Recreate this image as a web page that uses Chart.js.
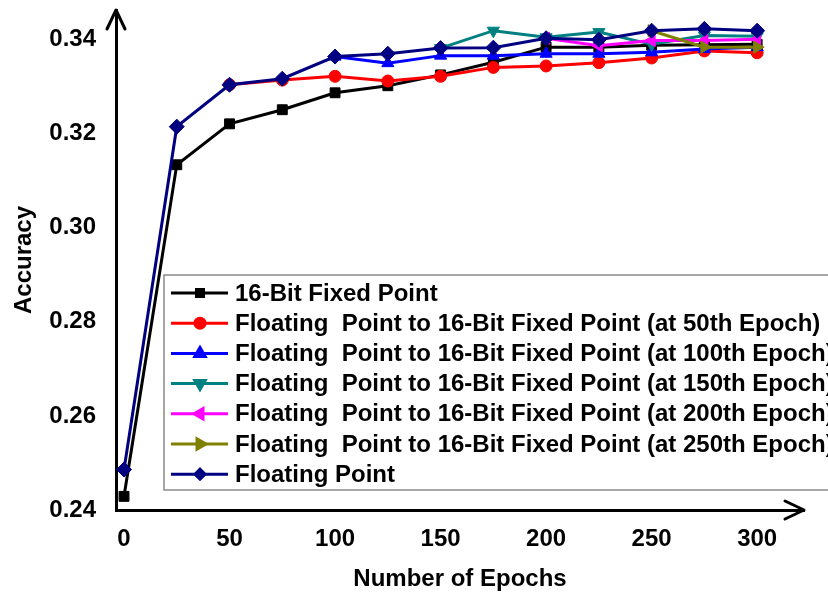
<!DOCTYPE html>
<html>
<head>
<meta charset="utf-8">
<title>Accuracy vs Epochs</title>
<script src="https://cdn.jsdelivr.net/npm/chart.js@4.4.1/dist/chart.umd.min.js"></script>
<style>
  body { margin: 0; background: #fff; }
  #wrap { width: 828px; height: 597px; }
</style>
</head>
<body>
<div id="wrap"><canvas id="accChart" width="828" height="597"></canvas></div>
<script>
// epochs sampled every 25
const epochs = [0, 25, 50, 75, 100, 125, 150, 175, 200, 225, 250, 275, 300];

// accuracy per run (null = still training in floating point)
const fixed16   = [0.2429, 0.3134, 0.3221, 0.3251, 0.3287, 0.3302, 0.3325, 0.3352, 0.3384, 0.3384, 0.3388, 0.3389, 0.3390];
const switch50  = [null, null, 0.3304, 0.3314, 0.3322, 0.3312, 0.3322, 0.3341, 0.3344, 0.3351, 0.3361, 0.3376, 0.3372];
const switch100 = [null, null, null, null, 0.3364, 0.3350, 0.3366, 0.3366, 0.3370, 0.3370, 0.3373, 0.3380, 0.3384];
const switch150 = [null, null, null, null, null, null, 0.3382, 0.3419, 0.3405, 0.3416, 0.3390, 0.3409, 0.3407];
const switch200 = [null, null, null, null, null, null, null, null, 0.3403, 0.3387, 0.3398, 0.3398, 0.3401];
const switch250 = [null, null, null, null, null, null, null, null, null, null, 0.3419, 0.3384, 0.3384];
const floating  = [0.2486, 0.3215, 0.3304, 0.3317, 0.3364, 0.3370, 0.3382, 0.3383, 0.3403, 0.3400, 0.3419, 0.3423, 0.3419];

const seriesNames = [
  '16-Bit Fixed Point',
  'Floating  Point to 16-Bit Fixed Point (at 50th Epoch)',
  'Floating  Point to 16-Bit Fixed Point (at 100th Epoch)',
  'Floating  Point to 16-Bit Fixed Point (at 150th Epoch)',
  'Floating  Point to 16-Bit Fixed Point (at 200th Epoch)',
  'Floating  Point to 16-Bit Fixed Point (at 250th Epoch)',
  'Floating Point'
];

const xTicks = [0, 50, 100, 150, 200, 250, 300];
const yTicks = [0.24, 0.26, 0.28, 0.30, 0.32, 0.34];

const FONT = "'Liberation Sans', Arial, sans-serif";

const styles = [
  { color: '#000000', pointStyle: 'rect',     rotation: 0,   radius: 7 },
  { color: '#ff0000', pointStyle: 'circle',   rotation: 0,   radius: 6 },
  { color: '#0000ff', pointStyle: 'triangle', rotation: 0,   radius: 7 },
  { color: '#008080', pointStyle: 'triangle', rotation: 180, radius: 7 },
  { color: '#ff00ff', pointStyle: 'triangle', rotation: -90, radius: 7 },
  { color: '#808000', pointStyle: 'triangle', rotation: 90,  radius: 7 },
  { color: '#000080', pointStyle: 'rectRot',  rotation: 0,   radius: 7.5 }
];

const allSeries = [fixed16, switch50, switch100, switch150, switch200, switch250, floating];

const datasets = allSeries.map((vals, i) => ({
  label: seriesNames[i],
  data: epochs.map((e, k) => ({ x: e, y: vals[k] })),
  borderColor: styles[i].color,
  backgroundColor: styles[i].color,
  borderWidth: 3,
  pointStyle: styles[i].pointStyle,
  rotation: styles[i].rotation,
  pointRadius: styles[i].radius,
  pointBorderWidth: 1,
  tension: 0,
  // floating point on top, fixed point at the bottom
  order: allSeries.length - 1 - i
}));

// no extra room for edge labels, the plot box is set by hand
function noEdgePadding(s) {
  s.paddingTop = 0;
  s.paddingBottom = 0;
  s.paddingLeft = 0;
  s.paddingRight = 0;
}

// arrow heads on the ends of both axes
const axisArrows = {
  id: 'axisArrows',
  afterDraw(chart) {
    const { ctx, chartArea: a } = chart;
    ctx.save();
    ctx.strokeStyle = '#000';
    ctx.lineWidth = 3;
    ctx.lineCap = 'round';
    ctx.lineJoin = 'round';
    ctx.beginPath();
    ctx.moveTo(a.left - 9, a.top + 19);
    ctx.lineTo(a.left, a.top);
    ctx.lineTo(a.left + 9, a.top + 19);
    ctx.moveTo(a.right - 19, a.bottom - 9);
    ctx.lineTo(a.right, a.bottom);
    ctx.lineTo(a.right - 19, a.bottom + 9);
    ctx.stroke();
    ctx.restore();
  }
};

// boxed legend inside the plot, each entry shows line + marker
const legendBox = {
  id: 'legendBox',
  afterDraw(chart) {
    const ctx = chart.ctx;
    const left = 164, top = 275, height = 215;
    ctx.save();
    ctx.fillStyle = '#fff';
    ctx.fillRect(left, top, 700, height);
    ctx.strokeStyle = '#8a8a8a';
    ctx.lineWidth = 1.5;
    ctx.strokeRect(left, top, 700, height);
    ctx.font = 'bold 24px ' + FONT;
    ctx.textBaseline = 'middle';
    chart.data.datasets.forEach((ds, i) => {
      const y = 293 + i * 30.2;
      const st = styles[i];
      ctx.strokeStyle = st.color;
      ctx.fillStyle = st.color;
      ctx.lineWidth = 3;
      ctx.beginPath();
      ctx.moveTo(171, y);
      ctx.lineTo(228, y);
      ctx.stroke();
      Chart.helpers.drawPoint(ctx, {
        pointStyle: st.pointStyle,
        rotation: st.rotation,
        radius: st.pointStyle === 'triangle' ? 6 : 5,
        borderWidth: 1
      }, 200, y);
      ctx.fillStyle = '#000';
      ctx.fillText(ds.label, 235, y + 1);
    });
    ctx.restore();
  }
};

new Chart(document.getElementById('accChart'), {
  type: 'line',
  data: { datasets },
  options: {
    responsive: false,
    devicePixelRatio: 1,
    animation: false,
    layout: { padding: { top: 10, right: 24, left: 0, bottom: 0 } },
    plugins: {
      legend: { display: false },
      tooltip: { enabled: false }
    },
    scales: {
      x: {
        type: 'linear',
        min: -3.8,
        max: 322.2,
        grid: { display: false, drawTicks: false },
        border: { display: true, color: '#000', width: 3 },
        afterBuildTicks: s => { s.ticks = xTicks.map(v => ({ value: v })); },
        afterFit: s => { s.height = 87; noEdgePadding(s); },
        ticks: {
          color: '#000',
          padding: 15,
          maxRotation: 0,
          font: { family: FONT, size: 24, weight: 'bold' }
        },
        title: {
          display: true,
          text: 'Number of Epochs',
          color: '#000',
          padding: { top: 0, bottom: 3 },
          font: { family: FONT, size: 24, weight: 'bold' }
        }
      },
      y: {
        type: 'linear',
        min: 0.24,
        max: 0.3463,
        grid: { display: false, drawTicks: false },
        border: { display: true, color: '#000', width: 3 },
        afterBuildTicks: s => { s.ticks = yTicks.map(v => ({ value: v })); },
        afterFit: s => { s.width = 116; noEdgePadding(s); },
        ticks: {
          color: '#000',
          padding: 20,
          callback: v => v.toFixed(2),
          font: { family: FONT, size: 24, weight: 'bold' }
        },
        title: {
          display: true,
          text: 'Accuracy',
          color: '#000',
          padding: { top: 10, bottom: 0 },
          font: { family: FONT, size: 24, weight: 'bold' }
        }
      }
    }
  },
  plugins: [axisArrows, legendBox]
});
</script>
</body>
</html>
